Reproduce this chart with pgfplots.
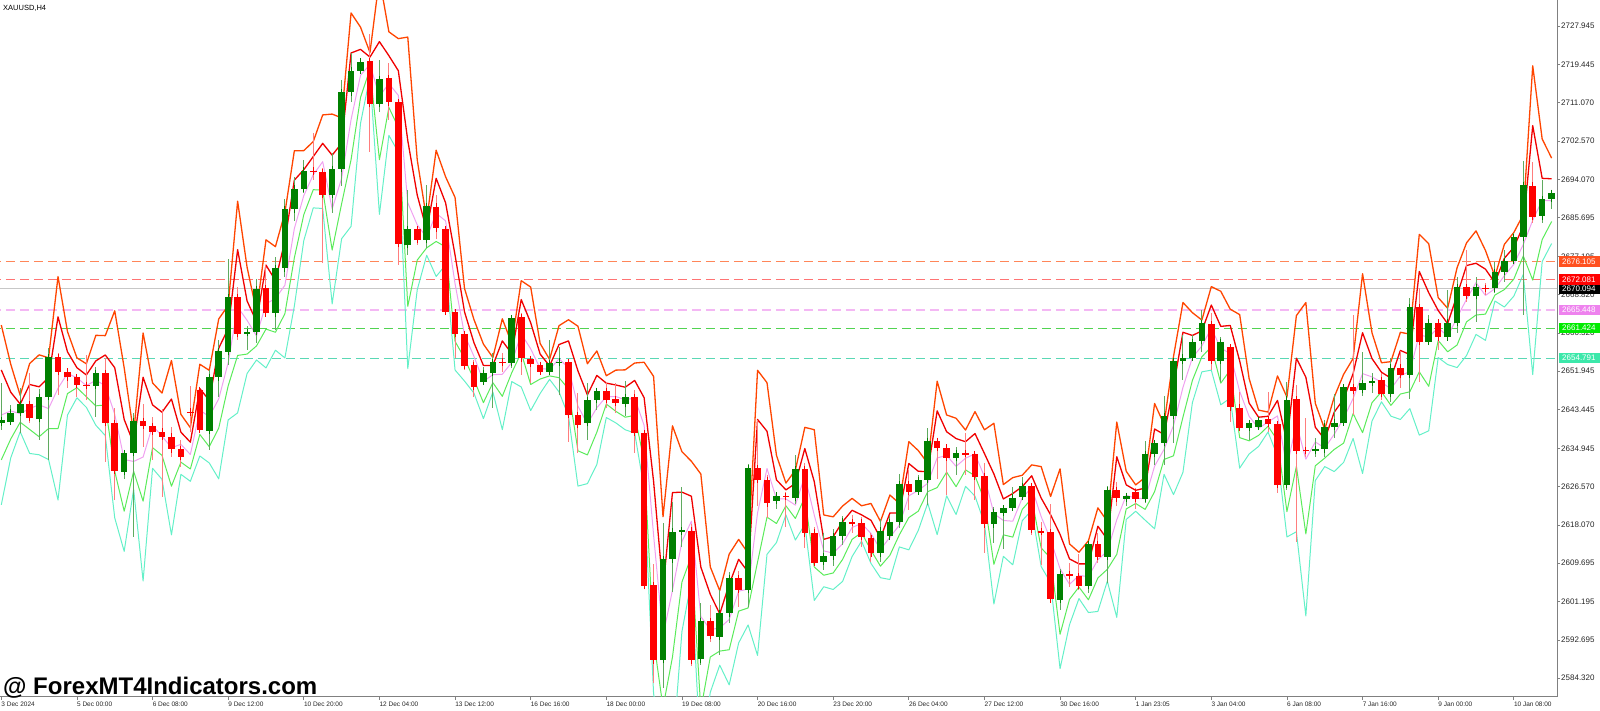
\documentclass[border=0pt]{standalone}
\usepackage{fontspec}
\setmainfont{Liberation Sans}
\usepackage{pgfplots}
\usepackage{pgfplotstable}
\pgfplotsset{compat=1.18}
\definecolor{bull}{RGB}{0,128,0}
\definecolor{bear}{RGB}{255,0,0}
\definecolor{bullw}{RGB}{95,170,95}
\definecolor{bearw}{RGB}{255,125,125}
\definecolor{rtwo}{RGB}{255,69,0}
\definecolor{rone}{RGB}{240,0,0}
\definecolor{piv}{RGB}{240,160,240}
\definecolor{sone}{RGB}{90,235,90}
\definecolor{stwo}{RGB}{100,240,200}
\definecolor{frame}{RGB}{128,128,128}
\definecolor{lab1}{RGB}{255,80,30}
\definecolor{lab4}{RGB}{238,130,238}
\definecolor{lab5}{RGB}{0,235,0}
\definecolor{lab6}{RGB}{60,232,170}
\pgfplotstableread{
i o h l c
-1 2642.3 2652.2 2632.4 2642.3
0 2640.5 2649.3 2639.0 2641.2
1 2640.8 2644.5 2640.5 2642.8
2 2642.8 2648.2 2638.3 2644.7
3 2644.7 2651.5 2640.5 2641.6
4 2641.4 2648.0 2636.8 2646.3
5 2646.3 2657.0 2632.4 2655.1
6 2655.1 2655.9 2646.7 2651.8
7 2651.8 2652.6 2648.2 2650.6
8 2650.6 2651.1 2646.3 2648.9
9 2648.9 2655.5 2645.6 2648.7
10 2648.7 2652.9 2641.9 2651.5
11 2651.5 2654.8 2632.0 2640.5
12 2640.5 2643.8 2623.6 2630.0
13 2629.8 2634.2 2628.1 2633.9
14 2633.9 2642.7 2615.4 2641.0
15 2641.0 2644.7 2635.3 2639.9
16 2639.9 2641.9 2632.4 2638.6
17 2638.6 2643.5 2624.3 2637.5
18 2637.5 2639.7 2633.1 2634.7
19 2634.7 2636.8 2630.9 2633.1
20 2643.0 2648.7 2638.6 2642.8
21 2647.8 2648.5 2638.3 2639.0
22 2638.8 2652.2 2634.6 2650.7
23 2650.6 2658.8 2646.2 2656.4
24 2656.2 2676.6 2653.3 2668.3
25 2668.3 2670.5 2658.8 2660.1
26 2660.3 2661.9 2656.6 2660.6
27 2660.6 2672.2 2658.1 2670.0
28 2670.2 2675.3 2663.9 2664.7
29 2664.7 2677.0 2661.0 2674.6
30 2674.6 2689.8 2672.7 2687.6
31 2687.6 2694.8 2684.9 2692.1
32 2692.1 2698.4 2691.1 2696.1
33 2696.1 2704.3 2694.0 2695.9
34 2695.8 2696.6 2675.7 2690.7
35 2690.7 2700.0 2686.7 2696.5
36 2696.5 2716.1 2692.6 2713.3
37 2713.3 2721.9 2711.3 2718.1
38 2718.1 2720.5 2717.9 2720.1
39 2720.2 2726.3 2700.3 2710.8
40 2710.8 2720.5 2709.1 2716.2
41 2716.4 2719.7 2707.2 2711.1
42 2711.1 2711.8 2675.3 2679.9
43 2679.7 2691.8 2677.5 2683.2
44 2683.2 2683.6 2679.7 2680.8
45 2680.8 2692.9 2679.0 2688.2
46 2688.2 2690.7 2681.0 2683.4
47 2683.2 2683.8 2664.8 2665.0
48 2664.9 2665.0 2654.8 2660.1
49 2660.1 2660.3 2652.2 2653.1
50 2653.3 2654.4 2646.2 2648.5
51 2649.6 2652.9 2649.1 2651.5
52 2651.6 2656.0 2643.8 2654.0
53 2654.0 2656.0 2651.8 2653.8
54 2653.7 2664.3 2652.6 2663.6
55 2663.8 2664.7 2651.1 2654.8
56 2654.6 2654.8 2649.3 2653.5
57 2653.3 2653.7 2651.5 2651.8
58 2651.8 2658.8 2651.5 2653.7
59 2653.8 2657.3 2646.7 2654.0
60 2653.9 2654.0 2636.4 2642.3
61 2642.3 2647.1 2633.9 2640.1
62 2640.5 2649.3 2636.8 2645.6
63 2645.6 2648.0 2643.4 2647.6
64 2647.6 2649.6 2643.8 2645.7
65 2645.7 2649.3 2642.7 2644.9
66 2644.7 2649.8 2642.1 2646.2
67 2646.2 2647.8 2633.9 2638.3
68 2638.3 2639.0 2604.1 2604.6
69 2604.8 2609.5 2583.3 2588.3
70 2588.3 2618.4 2582.2 2610.5
71 2610.5 2623.2 2603.4 2616.6
72 2616.6 2626.5 2613.3 2616.9
73 2616.8 2618.4 2587.0 2588.3
74 2588.5 2601.0 2587.2 2596.9
75 2596.9 2600.4 2592.2 2593.6
76 2593.5 2603.8 2589.4 2598.6
77 2598.6 2607.8 2596.4 2606.3
78 2606.3 2608.0 2600.1 2603.8
79 2603.8 2631.5 2600.1 2630.6
80 2630.6 2641.2 2622.3 2628.0
81 2628.0 2629.1 2619.5 2622.8
82 2623.4 2625.2 2621.7 2624.5
83 2624.5 2625.4 2617.7 2624.3
84 2624.1 2633.5 2622.8 2630.3
85 2630.3 2631.7 2612.9 2616.2
86 2616.4 2617.6 2609.7 2609.8
87 2610.0 2616.2 2608.2 2611.2
88 2611.2 2617.3 2609.0 2615.6
89 2615.6 2620.1 2613.7 2618.8
90 2618.7 2620.3 2616.4 2618.5
91 2618.6 2619.9 2613.3 2615.4
92 2615.2 2616.2 2610.0 2611.8
93 2611.8 2619.3 2610.0 2616.8
94 2615.6 2620.1 2615.3 2618.7
95 2618.7 2629.2 2617.3 2627.0
96 2627.0 2630.2 2621.4 2625.4
97 2625.4 2629.1 2624.7 2628.0
98 2628.0 2639.4 2622.5 2636.6
99 2636.6 2637.0 2628.1 2635.1
100 2635.1 2635.3 2624.7 2632.9
101 2632.8 2635.3 2629.1 2633.9
102 2633.9 2638.4 2629.1 2633.7
103 2633.7 2633.9 2623.6 2628.7
104 2628.9 2631.7 2611.8 2618.2
105 2618.2 2622.1 2614.2 2620.9
106 2620.8 2622.3 2612.7 2621.7
107 2621.9 2626.5 2621.5 2624.1
108 2624.2 2628.6 2623.6 2626.7
109 2626.7 2626.9 2615.9 2617.0
110 2616.7 2618.8 2609.3 2616.5
111 2616.5 2622.8 2600.8 2601.7
112 2601.6 2608.3 2599.4 2607.3
113 2607.3 2609.6 2604.5 2606.8
114 2606.8 2611.7 2603.8 2604.6
115 2604.6 2614.4 2603.0 2613.9
116 2613.9 2616.2 2609.6 2611.1
117 2611.1 2626.7 2605.2 2625.8
118 2625.8 2627.6 2622.3 2623.9
119 2623.9 2625.2 2622.3 2624.5
120 2625.3 2626.2 2621.5 2623.8
121 2623.8 2636.6 2622.8 2633.7
122 2633.7 2636.8 2631.3 2636.1
123 2636.1 2646.5 2631.3 2642.1
124 2642.1 2654.8 2636.1 2654.2
125 2654.2 2659.9 2650.0 2654.9
126 2654.9 2659.9 2654.2 2658.4
127 2658.6 2665.4 2656.2 2662.5
128 2662.3 2664.7 2652.2 2654.2
129 2654.2 2659.4 2649.6 2658.4
130 2657.2 2657.7 2640.8 2644.0
131 2643.9 2647.4 2639.1 2639.5
132 2639.5 2640.8 2636.8 2640.5
133 2639.7 2641.6 2639.4 2641.2
134 2641.3 2647.4 2638.6 2640.3
135 2640.3 2640.5 2625.1 2626.9
136 2626.9 2649.6 2625.8 2645.7
137 2645.7 2648.9 2614.4 2634.4
138 2634.6 2641.6 2633.1 2634.4
139 2634.4 2637.2 2633.1 2634.8
140 2634.7 2641.3 2633.1 2639.7
141 2639.7 2646.9 2637.2 2640.6
142 2640.6 2649.1 2640.3 2648.4
143 2648.5 2664.3 2642.3 2647.6
144 2647.8 2656.2 2646.5 2649.3
145 2649.5 2651.5 2647.2 2649.8
146 2650.0 2651.6 2645.6 2646.9
147 2646.9 2654.8 2645.2 2652.7
148 2652.7 2656.4 2648.2 2651.1
149 2651.1 2668.0 2645.9 2666.0
150 2666.0 2670.2 2649.6 2658.4
151 2658.4 2664.3 2657.7 2662.6
152 2662.6 2662.8 2656.6 2659.4
153 2659.4 2669.8 2658.8 2662.6
154 2662.6 2672.7 2660.3 2670.4
155 2670.4 2678.6 2667.2 2668.5
156 2668.5 2672.7 2662.8 2670.4
157 2670.3 2671.4 2668.7 2670.2
158 2670.2 2676.0 2669.1 2673.8
159 2673.8 2678.6 2671.6 2676.2
160 2676.2 2682.3 2675.7 2681.5
161 2681.4 2698.3 2664.3 2692.9
162 2692.8 2698.1 2684.6 2686.0
163 2686.0 2694.0 2684.6 2689.8
164 2689.9 2691.5 2687.6 2691.2
}\candles
\tikzset{plabel/.style={anchor=west, inner xsep=3pt, inner ysep=0pt,
  minimum height=10.5pt, text width=35pt, align=left, text=white,
  font=\fontsize{8}{8}\selectfont, xshift=2pt}}
\pgfplotsset{nomark/.style={only marks, mark=*, mark size=0pt, mark options={draw=none, fill=none}}}
\begin{document}
\begin{tikzpicture}
\useasboundingbox (0,0) rectangle (1600pt,711pt);
\begin{axis}[
  at={(0pt,14pt)}, anchor=south west,
  scale only axis, width=1557pt, height=697pt,
  xmin=-0.1375, xmax=164.57, ymin=2580.19, ymax=2733.67,
  axis line style={draw=frame, line width=1pt},
  tick align=outside, major tick length=3pt,
  tick style={draw=frame, line width=0.8pt},
  xtick pos=lower, xticklabel pos=lower,
  ytick pos=upper, yticklabel pos=upper,
  xtick={0,8,...,160},
  xticklabels={3 Dec 2024,5 Dec 00:00,6 Dec 08:00,9 Dec 12:00,10 Dec 20:00,12 Dec 04:00,13 Dec 12:00,16 Dec 16:00,18 Dec 00:00,19 Dec 08:00,20 Dec 16:00,23 Dec 20:00,26 Dec 04:00,27 Dec 12:00,30 Dec 16:00,1 Jan 23:05,3 Jan 04:00,6 Jan 08:00,7 Jan 16:00,9 Jan 00:00,10 Jan 08:00},
  ytick={2584.320,2592.695,2601.195,2609.695,2618.070,2626.570,2634.945,2643.445,2651.945,2660.320,2668.820,2677.195,2685.695,2694.070,2702.570,2711.070,2719.445,2727.945},
  yticklabels={2584.320,2592.695,2601.195,2609.695,2618.070,2626.570,2634.945,2643.445,2651.945,2660.320,2668.820,2677.195,2685.695,2694.070,2702.570,2711.070,2719.445,2727.945},
  xticklabel style={font=\fontsize{6.5}{7}\selectfont, anchor=north west, inner sep=0pt, yshift=-2pt, text=black!85},
  yticklabel style={font=\fontsize{8}{8}\selectfont, anchor=west, inner sep=0pt, xshift=1pt, text=black!85},
  clip=true,
]
% horizontal levels
\addplot[rtwo!65, line width=1pt, dash pattern=on 9pt off 5pt] coordinates {(-1,2676.105) (166,2676.105)};
\addplot[bear!55, line width=1.6pt, dash pattern=on 9pt off 5pt] coordinates {(-1,2672.081) (166,2672.081)};
\addplot[black!22, line width=1.4pt] coordinates {(-1,2670.094) (166,2670.094)};
\addplot[piv!75, line width=1.6pt, dash pattern=on 9pt off 5pt] coordinates {(-1,2665.448) (166,2665.448)};
\addplot[sone!90!black, line width=1pt, dash pattern=on 9pt off 5pt] coordinates {(-1,2661.424) (166,2661.424)};
\addplot[stwo!90!black, line width=1pt, dash pattern=on 9pt off 5pt] coordinates {(-1,2654.791) (166,2654.791)};
% pivot lines (from previous bar)
\addplot[stwo, line width=1pt, line join=round, skip coords between index={165}{166}]
  table[x expr=\thisrow{i}+1, y expr={(\thisrow{h}+\thisrow{l}+\thisrow{c})/3-\thisrow{h}+\thisrow{l}}]{\candles};
\addplot[sone, line width=1pt, line join=round, skip coords between index={165}{166}]
  table[x expr=\thisrow{i}+1, y expr={2*(\thisrow{h}+\thisrow{l}+\thisrow{c})/3-\thisrow{h}}]{\candles};
\addplot[piv, line width=1pt, line join=round, skip coords between index={165}{166}]
  table[x expr=\thisrow{i}+1, y expr={(\thisrow{h}+\thisrow{l}+\thisrow{c})/3}]{\candles};
\addplot[rone, line width=1.3pt, line join=round, skip coords between index={165}{166}]
  table[x expr=\thisrow{i}+1, y expr={2*(\thisrow{h}+\thisrow{l}+\thisrow{c})/3-\thisrow{l}}]{\candles};
\addplot[rtwo, line width=1.3pt, line join=round, skip coords between index={165}{166}]
  table[x expr=\thisrow{i}+1, y expr={(\thisrow{h}+\thisrow{l}+\thisrow{c})/3+\thisrow{h}-\thisrow{l}}]{\candles};
% wicks
\addplot[nomark, error bars/.cd, y dir=both, y explicit,
  error bar style={line width=1pt, draw=bullw}, error mark=none]
  table[x=i, y expr={\thisrow{c}>=\thisrow{o} ? (\thisrow{h}+\thisrow{l})/2 : nan},
        y error expr={(\thisrow{h}-\thisrow{l})/2}]{\candles};
\addplot[nomark, error bars/.cd, y dir=both, y explicit,
  error bar style={line width=1pt, draw=bearw}, error mark=none]
  table[x=i, y expr={\thisrow{c}<\thisrow{o} ? (\thisrow{h}+\thisrow{l})/2 : nan},
        y error expr={(\thisrow{h}-\thisrow{l})/2}]{\candles};
% bodies
\addplot[nomark, error bars/.cd, y dir=both, y explicit,
  error bar style={line width=6.6pt, draw=bull}, error mark=-,
  error mark options={line width=1pt, mark size=3.3pt, draw=bull}]
  table[x=i, y expr={\thisrow{c}>=\thisrow{o} ? (\thisrow{o}+\thisrow{c})/2 : nan},
        y error expr={abs(\thisrow{c}-\thisrow{o})/2}]{\candles};
\addplot[nomark, error bars/.cd, y dir=both, y explicit,
  error bar style={line width=6.6pt, draw=bear}, error mark=-,
  error mark options={line width=1pt, mark size=3.3pt, draw=bear}]
  table[x=i, y expr={\thisrow{c}<\thisrow{o} ? (\thisrow{o}+\thisrow{c})/2 : nan},
        y error expr={abs(\thisrow{c}-\thisrow{o})/2}]{\candles};
\coordinate (b1) at (axis cs:164.57,2676.105);
\coordinate (b2) at (axis cs:164.57,2672.081);
\coordinate (b3) at (axis cs:164.57,2670.094);
\coordinate (b4) at (axis cs:164.57,2665.448);
\coordinate (b5) at (axis cs:164.57,2661.424);
\coordinate (b6) at (axis cs:164.57,2654.791);
\end{axis}
\node[plabel, fill=black] at (b3) {2670.094};
\node[plabel, fill=lab1] at (b1) {2676.105};
\node[plabel, fill=bear] at (b2) {2672.081};
\node[plabel, fill=lab4] at (b4) {2665.448};
\node[plabel, fill=lab5] at (b5) {2661.424};
\node[plabel, fill=lab6] at (b6) {2654.791};
\node[anchor=base west, inner sep=0pt, font=\fontsize{7.5}{8}\selectfont] at (3pt,700.5pt) {XAUUSD,H4};
\node[anchor=base west, inner sep=0pt, font=\fontsize{24}{25}\selectfont\bfseries] at (3pt,16pt) {@ ForexMT4Indicators.com};
\end{tikzpicture}
\end{document}
